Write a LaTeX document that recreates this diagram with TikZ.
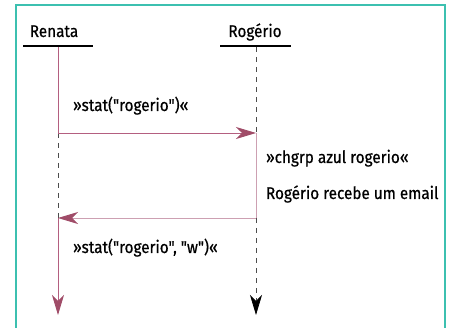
\documentclass[tikz,border=0pt]{standalone}
\usepackage{fontspec}
\setmainfont{Fira Sans}[FakeStretch=0.9, FakeBold=0.6, Ligatures=TeXOff]
\usetikzlibrary{arrows.meta}
\definecolor{moldura}{RGB}{60,192,176}
\definecolor{msg}{RGB}{180,95,128}
\definecolor{msgclara}{RGB}{205,160,178}
\definecolor{ponta}{RGB}{160,76,104}
\begin{document}
\begin{tikzpicture}[x=1pt, y=-1pt, font=\fontsize{17}{19}\selectfont,
    every node/.style={inner sep=0pt, outer sep=0pt},
    ator/.style={anchor=base},
    barra/.style={line width=2.6pt, black},
    rotulo/.style={anchor=base west},
    viva/.style={msg, line width=0.9pt},
    espera/.style={black!70, line width=0.8pt, dash pattern=on 5pt off 5pt},
    seta/.style={-{Stealth[length=20pt, width=12pt, inset=6pt, color=ponta]}}]
    \useasboundingbox (0,0) rectangle (449,328);
    \draw[moldura, line width=2pt] (16,340) -- (16,5) -- (445,5) -- (445,340);

    % atores e barras
    \node[ator] (renata) at (54,37) {Renata};
    \node[ator] (rogerio) at (255,37) {Rogério};
    \draw[barra] (23,46) -- (93,46);
    \draw[barra] (220,46) -- (291,46);

    % pontos das linhas de vida
    \coordinate (ren-top) at (58,47);
    \coordinate (rog-top) at (256,47);
    \coordinate (ren-m1) at (58,133);
    \coordinate (rog-m1) at (256,133);
    \coordinate (ren-m2) at (58,218);
    \coordinate (rog-m2) at (256,218);
    \coordinate (ren-end) at (58,315);
    \coordinate (rog-end) at (256,315);

    % linhas de vida
    \draw[viva] (ren-top) -- (ren-m1);
    \draw[espera] (ren-m1) -- (ren-m2);
    \draw[viva, seta] (ren-m2) -- (ren-end);
    \draw[espera] (rog-top) -- (rog-m1);
    \draw[msgclara, line width=0.9pt] (rog-m1) -- (rog-m2);
    \draw[espera, -{Stealth[length=20pt, width=12pt, inset=6pt, color=black]}] (rog-m2) -- (rog-end);

    % mensagens
    \draw[viva, seta] (ren-m1) -- (rog-m1);
    \draw[msgclara, line width=0.9pt, seta] (rog-m2) -- (ren-m2);

    \node[rotulo] (stat1) at (73,111) {»stat("rogerio")«};
    \node[rotulo] (chgrp) at (266,163) {»chgrp azul rogerio«};
    \node[rotulo] (email) at (266,199) {Rogério recebe um email};
    \node[rotulo] (stat2) at (73,253) {»stat("rogerio", "w")«};
\end{tikzpicture}
\end{document}
